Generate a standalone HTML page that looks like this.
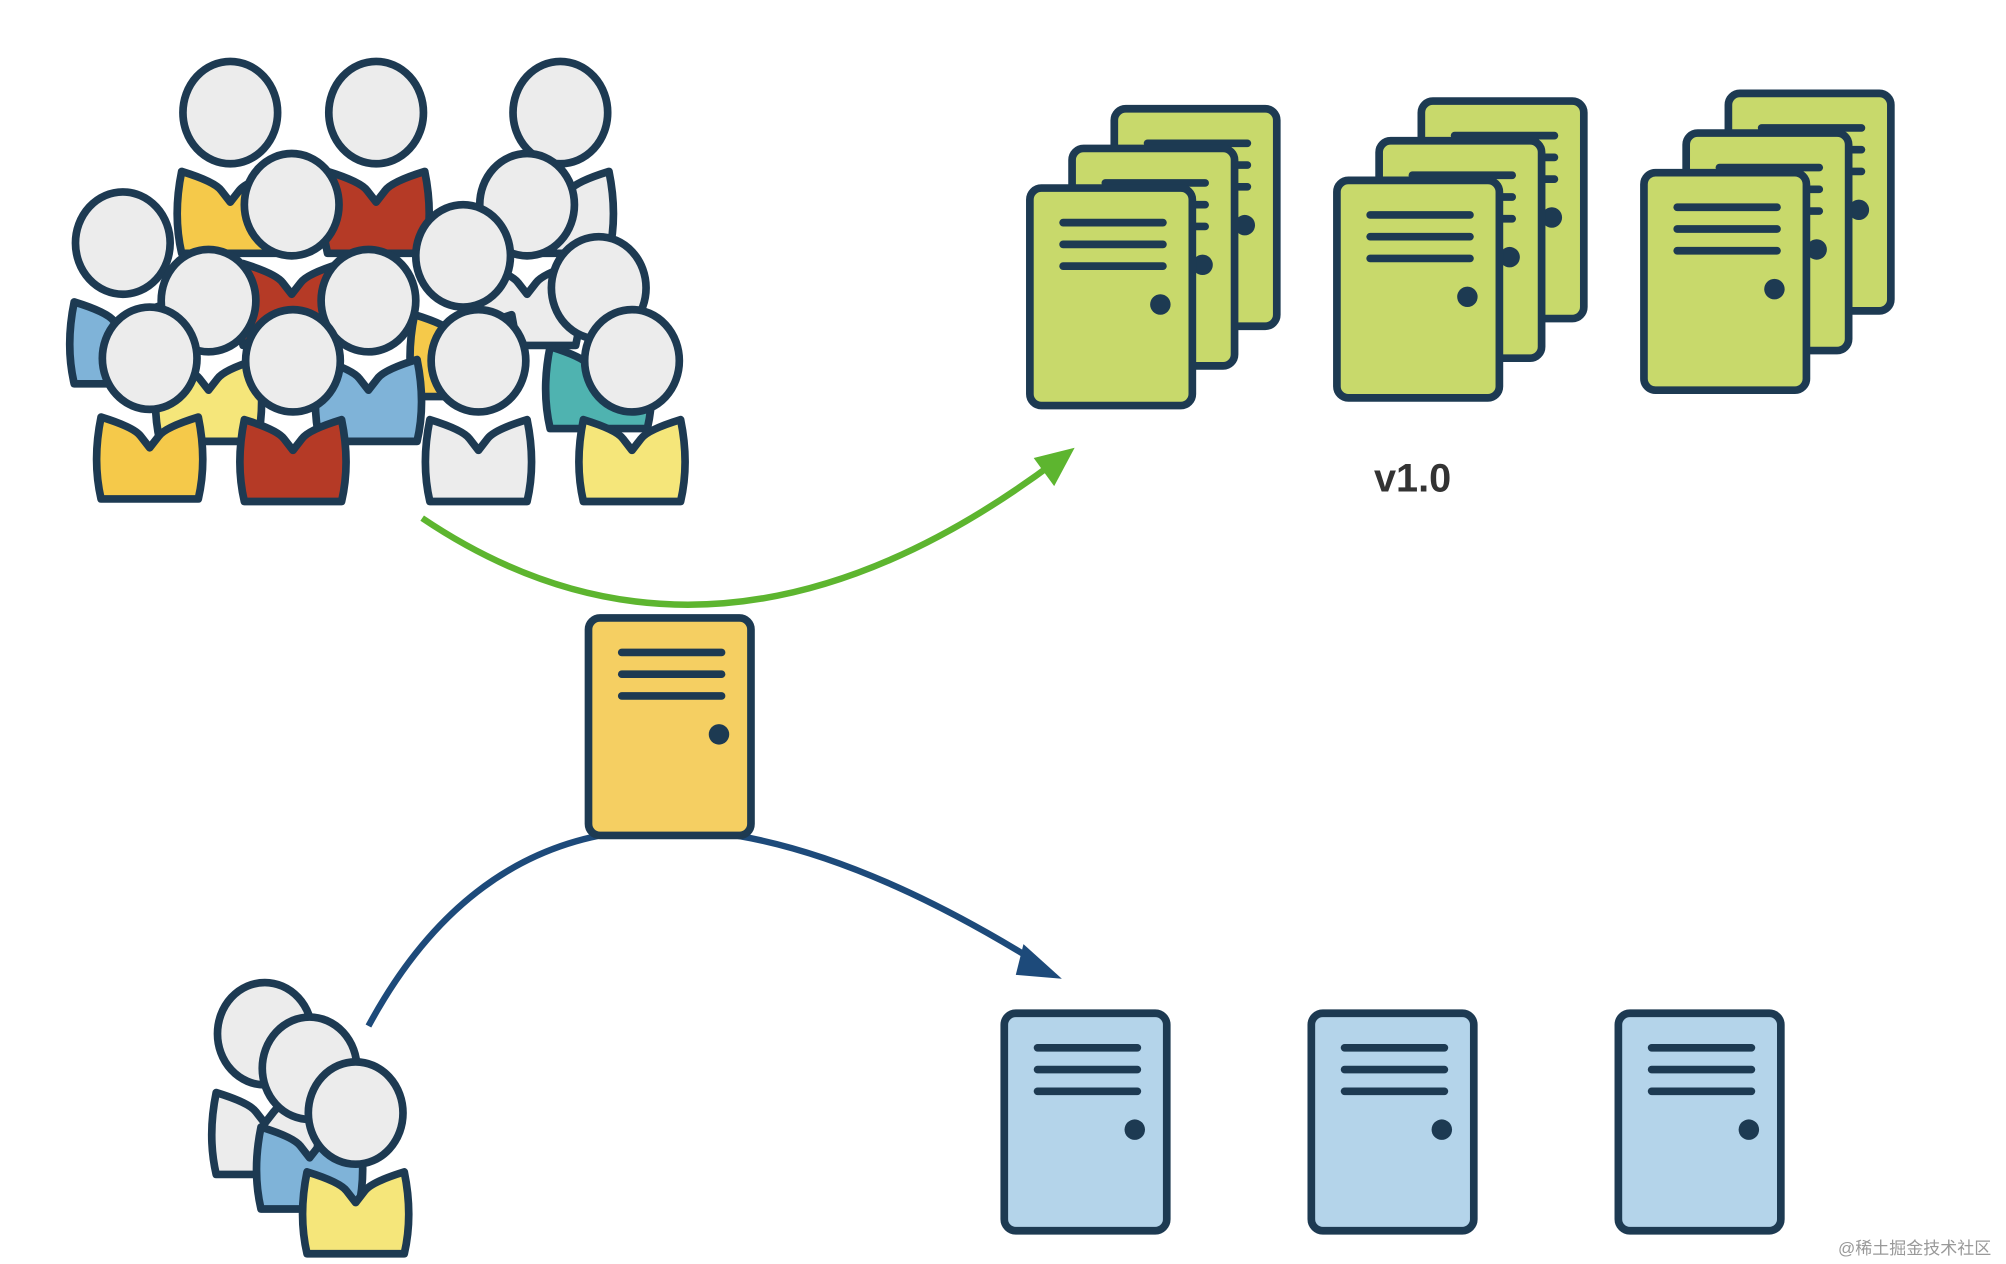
<!DOCTYPE html>
<html><head><meta charset="utf-8"><style>
html,body{margin:0;padding:0;background:#fff;width:2006px;height:1264px;overflow:hidden}
svg{display:block}
.wm{position:absolute;left:1838px;top:1234px;font:17px "Liberation Sans","Noto Sans CJK SC",sans-serif;color:#999}
</style></head><body>
<svg width="2006" height="1264" viewBox="0 0 1568 988" preserveAspectRatio="none" xmlns="http://www.w3.org/2000/svg">
<defs>
<g id="p">
<path d="M-38,46 Q-12,54 -7,61 L0,70 L7,61 Q12,54 38,46 Q45,80 38,110 L-38,110 Q-45,80 -38,46 Z" stroke="#1d3a52" stroke-width="6" stroke-linejoin="round"/>
<ellipse cx="0" cy="0" rx="37" ry="40" fill="#ececec" stroke="#1d3a52" stroke-width="6"/>
</g>
<g id="s">
<rect x="0" y="0" width="127" height="170" rx="9" stroke="#1d3a52" stroke-width="6"/>
<g stroke="#1d3a52" stroke-width="6" stroke-linecap="round">
<line x1="26" y1="27" x2="104" y2="27"/><line x1="26" y1="44" x2="104" y2="44"/><line x1="26" y1="61" x2="104" y2="61"/>
</g>
<circle cx="102" cy="91" r="8" fill="#1d3a52"/>
</g>
</defs>
<use href="#p" x="180" y="88" fill="#f5c94a"/>
<use href="#p" x="294" y="88" fill="#b53a26"/>
<use href="#p" x="438" y="88" fill="#ececec"/>
<use href="#p" x="412" y="160" fill="#ececec"/>
<use href="#p" x="228" y="160" fill="#b53a26"/>
<use href="#p" x="96" y="190" fill="#7fb3d8"/>
<use href="#p" x="468" y="225" fill="#4fb3b0"/>
<use href="#p" x="362" y="200" fill="#f5c94a"/>
<use href="#p" x="163" y="235" fill="#f5e67a"/>
<use href="#p" x="288" y="235" fill="#7fb3d8"/>
<use href="#p" x="117" y="280" fill="#f5c94a"/>
<use href="#p" x="229" y="282" fill="#b53a26"/>
<use href="#p" x="374" y="282" fill="#ececec"/>
<use href="#p" x="494" y="282" fill="#f5e67a"/>
<use href="#p" x="207" y="808" fill="#ececec"/>
<use href="#p" x="242" y="835" fill="#7fb3d8"/>
<use href="#p" x="278" y="870" fill="#f5e67a"/>
<g fill="#c8d96b">
<use href="#s" x="871" y="85"/><use href="#s" x="838" y="116"/><use href="#s" x="805" y="147"/>
<use href="#s" x="1111" y="79"/><use href="#s" x="1078" y="110"/><use href="#s" x="1045" y="141"/>
<use href="#s" x="1351" y="73"/><use href="#s" x="1318" y="104"/><use href="#s" x="1285" y="135"/>
</g>
<text x="1074" y="384" font-family="Liberation Sans, sans-serif" font-weight="bold" font-size="31" fill="#333">v1.0</text>
<path d="M330,405 Q560,560 826,360" fill="none" stroke="#5db52f" stroke-width="5"/>
<polygon points="840,350 808,358 824,380" fill="#5db52f"/>
<path d="M288,802 Q440,520 815,755" fill="none" stroke="#1d4a7a" stroke-width="5"/>
<polygon points="830,765 800,738 794,762" fill="#1d4a7a"/>
<use href="#s" x="460" y="483" fill="#f5cf62"/>
<g fill="#b4d4ea">
<use href="#s" x="785" y="792"/><use href="#s" x="1025" y="792"/><use href="#s" x="1265" y="792"/>
</g>
</svg>
<div class="wm">@稀土掘金技术社区</div>
</body></html>
